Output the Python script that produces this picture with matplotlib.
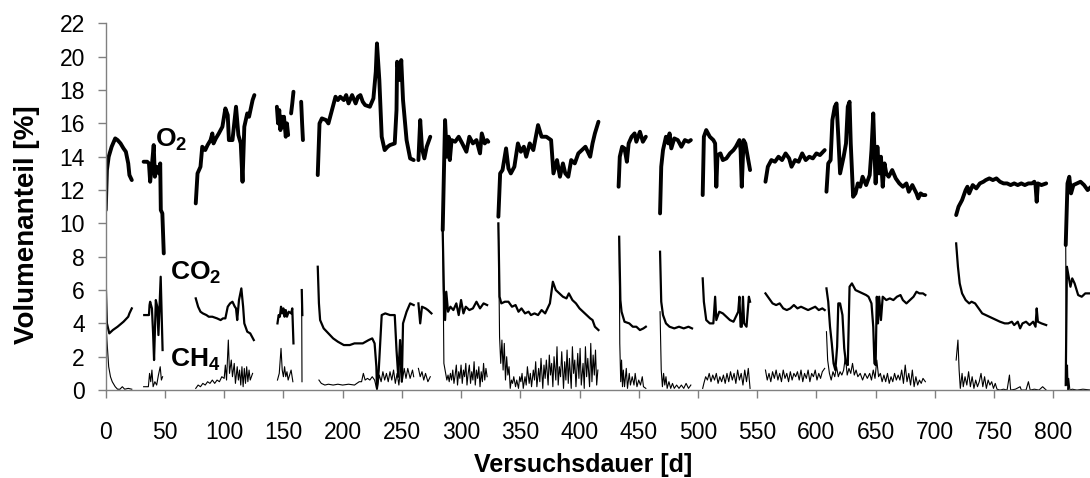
import matplotlib
matplotlib.use("Agg")
import matplotlib.pyplot as plt

plt.rcParams["font.family"] = ["Liberation Sans", "DejaVu Sans"]
plt.rcParams["mathtext.fontset"] = "custom"
plt.rcParams["mathtext.rm"] = "Liberation Sans"
plt.rcParams["mathtext.bf"] = "Liberation Sans:bold"

o2_segments = [
    [(0, 10.8), (1, 13.2), (2.5, 14.0), (5, 14.6), (8, 15.1), (10, 15.0), (12.5, 14.8), (15, 14.5),
     (17, 14.3), (19, 13.6), (20, 12.9), (22, 12.6)],
    [(32, 13.7), (35, 13.7), (36.5, 13.6), (37.5, 12.5), (39, 13.5), (40.5, 14.7), (41.5, 12.8),
     (43, 13.4), (45, 13.0), (46, 13.6), (46.5, 10.8), (47.8, 10.6), (49, 8.2)],
    [(76, 11.2), (77.5, 13.0), (80, 13.4), (81.5, 14.6), (84, 14.4), (86, 14.7), (88.5, 15.0),
     (90, 15.4), (91, 14.8), (93, 15.1), (95.5, 15.4), (98.5, 15.8), (101, 16.9), (103, 16.5),
     (104, 15.0), (107, 15.0), (110, 17.0), (112, 15.3), (114, 14.8), (115.5, 12.5), (117, 15.8),
     (119.5, 16.6), (121, 16.4), (124, 17.4), (125.5, 17.7)],
    [(144.5, 17.0), (145.5, 16.0), (146.5, 16.8), (147.5, 15.6), (148.5, 16.4), (149.5, 15.8),
     (150.5, 16.4), (152, 15.2), (153, 16.0), (154, 15.3)],
    [(156.5, 16.6), (157.5, 17.2), (158.5, 17.9)],
    [(165, 17.3), (165.8, 16.0), (166.5, 15.0)],
    [(179, 12.9), (180.5, 16.0), (182.5, 16.3), (186, 16.2), (188, 16.0), (191, 16.8), (194, 17.6),
     (196, 17.4), (198, 17.6), (201, 17.4), (203, 17.7), (205, 17.2), (208, 17.7), (211, 17.2),
     (213, 17.6), (215, 17.7), (217, 17.3), (219, 17.1), (223, 17.0), (226, 17.5), (228, 19.1),
     (229, 20.8), (231, 18.6), (233, 15.2), (235.5, 14.4), (238, 14.6), (240, 14.7), (244, 14.8),
     (245.5, 16.8), (246, 19.7), (248.5, 18.6), (249.5, 19.8), (251, 17.4), (253, 15.8), (254, 15.0),
     (257, 13.9), (260, 13.8)],
    [(264, 13.8), (265.5, 16.2), (267, 14.5), (269, 13.9), (271, 14.6), (274, 15.2)],
    [(284.5, 9.6), (285.5, 13.0), (286.5, 16.2), (288, 14.0), (289.5, 15.2), (290.5, 13.8),
     (292, 15.0), (295, 14.9), (298, 15.2), (301, 14.8), (304.5, 14.3), (307, 15.2), (310, 14.8),
     (313, 15.0), (316, 14.2), (317.5, 15.4), (320, 14.8), (322, 15.0), (323, 14.9)],
    [(331.5, 10.4), (333, 13.0), (335, 13.2), (338, 14.5), (340, 13.3), (342, 13.0), (345, 13.4),
     (348, 14.8), (350.5, 14.3), (353, 14.6), (355, 14.0), (358, 14.8), (361, 14.4), (365, 15.9),
     (368, 15.2), (372, 15.2), (376, 15.0), (377, 14.0), (378, 13.0), (381, 13.8), (383.5, 12.8),
     (386, 13.6), (388, 13.0), (390.5, 12.8), (393, 13.8), (396, 13.6), (399, 14.2), (402, 14.4),
     (405, 14.6), (409, 14.0), (411, 14.8), (413, 15.4), (416, 16.1)],
    [(433, 12.2), (434, 14.0), (436, 14.6), (438, 14.5), (440, 13.7), (441.5, 14.8), (444, 15.2),
     (446.5, 15.4), (448, 14.9), (451, 15.5), (453.5, 14.9), (456, 15.2)],
    [(468, 10.6), (469, 13.4), (470.5, 14.4), (473, 15.2), (475, 14.8), (476, 15.4), (477.5, 14.5),
     (480, 15.1), (483, 15.0), (486, 14.6), (489, 15.0), (492, 14.9), (494, 15.0)],
    [(504, 11.7), (505, 15.2), (507, 15.6), (510, 15.2), (513, 15.0), (514.5, 14.8), (515.5, 12.2),
     (516.5, 14.1), (519, 14.2), (521, 13.8), (524, 13.9), (527, 14.2), (530, 14.4), (532, 14.6),
     (535, 15.0), (536, 14.4), (537, 12.2), (538.5, 15.0), (540, 14.8), (542, 14.0), (544, 13.2)],
    [(557, 12.5), (559, 13.4), (562, 13.8), (565, 13.7), (568, 14.0), (571, 13.8), (574, 14.2),
     (577, 13.9), (579, 13.4), (582, 13.8), (585, 13.7), (588, 14.2), (591, 13.8), (594, 14.0),
     (597, 13.9), (600, 14.2), (603, 14.1), (607, 14.4)],
    [(608.5, 11.9), (610, 13.6), (612, 13.8), (613.5, 16.2), (615.5, 17.0), (617, 17.2),
     (618.5, 15.2), (620, 13.0), (623, 14.0), (625, 14.8), (626.5, 17.0), (628, 17.3), (629, 14.8),
     (631, 11.6), (633, 11.8), (635, 12.4), (637, 12.2), (639, 12.8), (642, 12.3), (645, 12.9),
     (646.5, 14.4), (648, 16.6), (649, 14.4), (650, 12.4), (651.5, 14.6), (653, 13.0), (654.5, 14.0),
     (656, 12.2), (657.5, 13.6), (659, 13.0), (661, 12.8), (664, 13.2), (667, 12.7), (670, 12.4),
     (673, 12.2), (676, 12.4), (678, 11.9), (681, 12.3), (684.5, 11.8), (686, 11.5), (688, 11.8),
     (690, 11.7), (692, 11.7)],
    [(718, 10.5), (720, 11.0), (723, 11.4), (726, 12.0), (727.5, 12.2), (729, 11.8), (732, 12.3),
     (735, 12.1), (738, 12.4), (741, 12.5), (743, 12.6), (746, 12.7), (749, 12.6), (752, 12.7),
     (755, 12.5), (758, 12.4), (761, 12.4), (764, 12.3), (767, 12.4), (770, 12.3), (773, 12.4),
     (776, 12.3), (779, 12.4), (782, 12.4), (784, 12.5), (785, 12.3), (786, 11.3), (787, 12.4),
     (790, 12.3), (794, 12.4)],
    [(810.5, 8.7), (812, 12.4), (813.5, 12.8), (815, 11.8), (817, 12.3), (820, 12.4), (823, 12.5),
     (826, 12.3), (829, 12.0), (832, 12.2)],
]

co2_segments = [
    [(0, 6.4), (1, 4.0), (3, 3.4), (6, 3.6), (10, 3.8), (15, 4.1), (19, 4.4), (20, 4.6), (22, 4.9)],
    [(32.5, 4.5), (36.5, 4.5), (37, 5.1), (37.5, 5.3), (39, 4.9), (40, 3.4), (40.8, 1.8),
     (42.3, 5.4), (43.5, 5.0), (44.5, 3.3), (46.4, 6.8), (48, 2.4)],
    [(76, 5.5), (78, 5.0), (80, 4.7), (82, 4.6), (85, 4.5), (87, 4.4), (90, 4.4), (94, 4.3),
     (97, 4.2), (99, 4.3), (101, 4.3), (103, 5.0), (105, 5.2), (107, 5.3), (109, 5.0), (110, 4.9),
     (111, 4.2), (112.5, 5.4), (114.5, 6.1), (116, 5.0), (117, 4.0), (119.5, 3.5), (122, 3.4),
     (125, 3.0)],
    [(145, 4.0), (146, 4.5), (147, 4.4), (148, 5.0), (149, 4.6), (150, 4.9), (151, 4.4), (152, 4.8),
     (153, 4.4), (154.5, 4.7), (156.5, 4.6), (157.5, 4.9), (158.5, 2.8)],
    [(165.5, 6.0), (166, 4.5)],
    [(179, 7.4), (180, 5.2), (181, 4.2), (184, 3.7), (188, 3.4), (192, 3.1), (196, 2.9), (201, 2.7),
     (206, 2.7), (210, 2.8), (213, 2.8), (217, 2.8), (222, 3.0), (225, 3.1), (227, 2.8),
     (228.5, 1.4), (229, 0.1), (230.5, 1.2), (233, 4.5), (236, 4.6), (240, 4.5), (244, 4.5),
     (245.5, 2.4), (247, 0.8), (248.5, 3.0), (250, 0.5), (251, 4.0), (254, 4.7), (257, 5.2),
     (260, 5.1)],
    [(264, 5.2), (265.5, 4.0), (267, 5.0), (270, 4.9), (272, 4.8), (275, 4.6)],
    [(284.5, 9.5), (285.5, 6.0), (286.5, 4.2), (287.5, 5.9), (289, 4.7), (291, 5.0), (293.5, 4.8),
     (296, 5.2), (298, 4.5), (300, 5.4), (302, 4.6), (304, 5.0), (307, 4.8), (310, 4.9), (313, 5.3),
     (316, 4.9), (319, 5.2), (322, 5.1)],
    [(331.5, 10.0), (332.5, 5.6), (334, 5.2), (337, 5.3), (340, 5.3), (343, 5.0), (346, 5.1),
     (348.5, 4.7), (351, 4.9), (354, 4.6), (357, 4.7), (359, 4.5), (362, 4.6), (365, 4.5),
     (368, 4.8), (371, 4.6), (375, 5.2), (377.5, 6.5), (380, 6.0), (383, 5.8), (386, 5.6),
     (389, 5.5), (391, 5.8), (394, 5.4), (397, 5.2), (400, 4.9), (403, 4.7), (406, 4.5), (409, 4.3),
     (411, 4.2), (413, 3.8), (416, 3.6)],
    [(433.5, 9.2), (434.5, 5.4), (435.5, 4.7), (438, 4.1), (442, 4.0), (445, 3.8), (448, 3.8),
     (451, 3.6), (454, 3.7), (456, 3.8)],
    [(468, 8.3), (469, 5.3), (470.5, 4.5), (473, 4.0), (476, 3.8), (480, 3.7), (484, 3.8),
     (488, 3.7), (492, 3.8), (495, 3.7)],
    [(504, 6.7), (505, 5.3), (507, 4.2), (510, 4.0), (513, 4.0), (514.5, 5.6), (515.5, 4.2),
     (518, 4.7), (521, 4.6), (524, 4.4), (527, 4.2), (530, 4.1), (532, 4.4), (534, 4.7), (535, 5.6),
     (536, 3.8), (537, 3.8), (538, 5.6), (539, 4.0), (541, 3.8), (543, 5.6), (544, 5.3)],
    [(557, 5.8), (560, 5.5), (563, 5.2), (566, 5.1), (569, 5.2), (572, 4.9), (575, 4.8), (578, 4.9),
     (581, 5.1), (584, 4.9), (587, 5.0), (590, 4.9), (593, 4.8), (596, 4.9), (599, 5.0), (602, 4.8),
     (605, 4.9), (607, 4.8)],
    [(608.5, 6.1), (610, 5.3), (611.5, 3.8), (613, 2.8), (614.5, 1.6), (616, 1.2), (617.5, 2.6),
     (618.5, 5.2), (620, 5.2), (622, 4.5), (623.5, 2.5), (625, 1.6), (626.5, 1.5), (628, 6.2),
     (630, 6.4), (633, 6.0), (636, 5.9), (639, 5.8), (642, 5.7), (644, 5.6), (646.5, 5.2),
     (648, 3.8), (649, 1.6), (650, 1.5), (651, 5.6), (652, 4.0), (653, 5.6), (654.5, 4.2),
     (656, 5.6), (659, 5.4), (662, 5.5), (665, 5.4), (668, 5.6), (671, 5.7), (673, 5.4), (676, 5.2),
     (679, 5.4), (682, 5.6), (684.5, 5.9), (687, 5.8), (690, 5.8), (692, 5.7)],
    [(718, 8.8), (719.5, 7.4), (721, 6.4), (723, 5.8), (726, 5.4), (729, 5.2), (731, 5.3),
     (734, 5.2), (737, 4.9), (740, 4.6), (743, 4.5), (746, 4.4), (749, 4.3), (752, 4.2), (755, 4.1),
     (759, 4.0), (762, 4.0), (765, 4.1), (767, 3.9), (770, 4.1), (772, 3.7), (774, 4.0), (777, 4.1),
     (780, 3.9), (783, 4.1), (785, 3.8), (786, 4.9), (787, 4.1), (790, 4.0), (794, 3.9)],
    [(810.5, 0.3), (811.5, 7.4), (813, 6.8), (814.5, 6.2), (816, 6.7), (818, 6.4), (821, 5.7),
     (824, 5.6), (827, 5.8), (832, 5.8)],
]

ch4_segments = [
    [(0, 4.2), (1, 3.0), (2.5, 1.4), (4, 0.8), (5.5, 0.5), (8, 0.2), (10, 0.05), (12, 0.05),
     (14, 0.2), (16, 0.05), (19, 0.1), (22, 0.05)],
    [(32, 0.2), (36, 0.2), (37, 1.0), (38, 0.5), (39, 1.2), (40, 0.2), (41.5, 0.5), (43, 0.3),
     (44.5, 0.9), (46, 1.4), (47, 0.6), (48, 0.8)],
    [(76, 0.1), (78, 0.3), (80, 0.2), (82, 0.4), (84, 0.3), (86, 0.5), (88, 0.4), (90, 0.6),
     (92, 0.4), (94, 0.6), (96, 0.5), (98, 0.8), (100, 0.7), (101, 1.5), (102, 0.6), (103.5, 3.0),
     (104.5, 1.0), (106, 1.8), (107, 0.8), (108.5, 1.6), (109.5, 0.4), (111, 1.4), (112, 0.6),
     (113, 1.2), (114, 0.3), (115, 1.4), (116, 0.2), (117, 1.3), (118, 0.4), (119, 1.4), (120, 0.5),
     (121, 1.2), (122, 0.6), (124, 1.0)],
    [(145, 0.6), (146.5, 1.0), (148, 2.5), (149, 1.2), (150, 0.8), (151, 1.4), (152, 0.8),
     (153, 1.1), (154, 0.6), (156.5, 1.2), (158, 0.5)],
    [(165.4, 6.0), (165.7, 0.5)],
    [(180, 0.6), (182, 0.4), (185, 0.3), (188, 0.35), (192, 0.3), (196, 0.35), (200, 0.3),
     (205, 0.35), (210, 0.3), (214, 0.5), (216, 0.5), (217.5, 1.0), (219, 0.6), (221, 0.7),
     (223, 0.6), (225, 0.8), (227, 0.6), (229, 0.0), (231, 0.9), (232.5, 0.5), (234, 1.1),
     (235.5, 0.6), (237, 1.0), (238.5, 0.5), (240, 1.1), (241.5, 0.6), (243, 1.2), (244.5, 0.4),
     (246, 1.0), (247.5, 0.3), (249, 1.4), (250.5, 0.6), (252, 1.3), (253.5, 0.7), (255, 1.3),
     (257, 0.7), (259, 1.2), (260, 0.8)],
    [(264, 1.3), (265.5, 0.8), (267, 1.1), (268.5, 0.6), (270, 1.0), (272, 0.5), (274, 0.8)],
    [(284.5, 9.5), (285.5, 1.6), (287, 1.0), (288, 0.6), (289, 0.9), (290, 0.5), (291, 1.0),
     (292, 0.6), (293, 1.2), (294, 0.4), (295, 0.9), (296, 1.5), (297, 0.3), (298, 1.1), (299, 0.7),
     (300, 1.5), (301, 0.4), (302, 1.2), (303, 0.8), (304, 1.6), (305, 0.3), (306, 1.0), (307, 1.5),
     (308, 0.4), (309, 1.1), (310, 0.6), (311, 1.7), (312, 0.3), (313, 1.2), (314, 0.7), (315, 1.4),
     (316, 0.2), (317, 1.1), (318, 0.5), (319, 1.6), (320, 0.6), (321, 1.3), (322, 0.8)],
    [(331.5, 10.0), (332.5, 3.2), (333.5, 1.6), (334.5, 3.0), (335.5, 1.2), (336.5, 2.8),
     (337.5, 0.6), (338.5, 2.0), (339.5, 0.9), (340.5, 1.4), (341.5, 0.1), (342.5, 0.6),
     (343.5, 0.4), (344.5, 0.8), (346, 0.2), (347, 0.6), (348.5, 0.1), (349.5, 0.8),
     (350.5, 0.5), (351.5, 1.0), (352.5, 0.1), (354, 0.8), (355, 0.3), (356, 1.4),
     (357.5, 0.4), (358.5, 1.0), (359.5, 0.2), (361, 1.2), (362, 0.6), (363, 1.7),
     (364, 0.2), (365.5, 1.3), (366.5, 0.5), (367.5, 1.9), (369, 0.1), (370, 1.5),
     (371, 0.7), (372, 1.8), (373.5, 0.3), (374.5, 2.1), (375.5, 0.9), (376.5, 1.6),
     (377.5, 0.2), (378.5, 2.0), (380, 0.6), (381, 2.6), (382, 0.3), (383, 1.4),
     (384, 0.8), (385, 2.3), (386.5, 0.1), (387.5, 1.7), (388.5, 0.6), (389.5, 2.4),
     (390.5, 0.4), (391.5, 1.9), (393, 0.1), (394, 2.6), (395, 1.0), (396, 1.8),
     (397, 0.2), (398.5, 2.2), (399.5, 0.7), (400.5, 2.5), (401.5, 0.3), (403, 1.6),
     (404, 0.1), (405, 2.6), (406, 0.8), (407, 1.9), (408.5, 0.2), (409.5, 2.8),
     (410.5, 0.5), (411.5, 2.1), (412.5, 0.9), (413.5, 2.4), (414.5, 0.3), (415.5, 1.2)],
    [(433.5, 9.2), (434, 2.8), (434.8, 0.5), (435.5, 1.8), (436.3, 0.2), (437, 1.2), (438, 0.2),
     (439.5, 1.3), (440.5, 0.1), (442, 1.0), (443, 0.3), (444.5, 0.8), (446, 0.3), (447, 1.0),
     (448.5, 0.2), (450, 0.6), (451.5, 0.3), (453, 0.8), (454, 0.2), (456, 0.1)],
    [(468, 4.7), (469, 1.2), (470, 0.2), (471, 1.0), (472, 0.3), (473, 0.8), (474, 0.1),
     (475.5, 0.5), (477, 0.1), (478.5, 0.4), (480, 0.1), (482, 0.3), (484, 0.1), (486, 0.3),
     (488, 0.1), (490, 0.4), (492, 0.1), (494, 0.3)],
    [(504, 0.1), (505, 0.4), (506.5, 0.8), (508, 0.6), (509.5, 1.0), (511, 0.5), (512.5, 0.9),
     (514, 0.6), (515.5, 1.0), (517, 0.4), (518.5, 0.8), (520, 0.5), (521.5, 0.9), (523, 0.4),
     (524.5, 1.0), (526, 0.5), (527.5, 1.1), (529, 0.6), (530.5, 1.0), (532, 0.4), (533.5, 1.2),
     (535, 0.6), (536.5, 1.0), (538, 0.3), (539.5, 1.2), (541, 0.5), (542.5, 1.3), (544, 0.1)],
    [(557, 1.2), (558.5, 0.6), (560, 1.0), (561.5, 0.5), (563, 1.1), (564.5, 0.7), (566, 1.2),
     (567.5, 0.6), (569, 1.0), (570.5, 0.5), (572, 1.2), (573.5, 0.7), (575, 1.0), (576.5, 0.5),
     (578, 1.1), (579.5, 0.6), (581, 1.0), (582.5, 0.8), (584, 1.1), (585.5, 0.6), (587, 1.2),
     (588.5, 0.5), (590, 1.0), (591.5, 0.7), (593, 1.2), (594.5, 0.5), (596, 1.0), (597.5, 0.8),
     (599, 1.2), (600.5, 0.6), (602, 1.0), (603.5, 0.7), (605, 1.1), (607, 1.3)],
    [(608.5, 3.5), (609.5, 1.8), (611, 1.0), (612.5, 0.6), (614, 1.1), (615.5, 0.8), (617, 1.4),
     (618.5, 0.8), (620, 1.1), (621.5, 0.9), (623, 1.2), (624.5, 2.0), (626, 0.9), (627.5, 1.3),
     (629, 1.0), (630.5, 1.6), (632, 0.9), (633.5, 1.2), (635, 0.8), (637, 1.0), (639, 0.6),
     (641, 1.0), (643, 0.7), (645, 1.0), (646.5, 0.6), (648, 1.2), (649.5, 0.7), (651, 1.8),
     (652.5, 0.8), (654, 1.0), (655.5, 0.5), (657, 0.9), (658.5, 0.5), (660, 1.0), (661.5, 0.4),
     (663, 0.8), (664.5, 0.5), (666, 1.0), (667.5, 0.6), (669, 0.9), (670.5, 0.6), (672, 1.2),
     (673.5, 0.4), (675, 1.5), (676.5, 0.5), (678, 1.0), (679.5, 0.3), (681, 1.2), (682.5, 0.2),
     (684, 0.8), (685.5, 0.3), (687, 0.6), (688.5, 0.4), (690, 0.7), (692, 0.5)],
    [(718, 1.8), (719.5, 3.0), (720.5, 1.2), (721.5, 0.1), (723, 1.0), (724, 0.2), (725.5, 0.8),
     (727, 0.3), (728.5, 1.1), (730, 0.2), (731.5, 0.8), (733, 0.1), (734.5, 0.6), (736, 0.2),
     (737.5, 0.5), (739, 1.0), (740.5, 0.2), (742, 0.8), (743.5, 0.1), (745, 0.6), (746.5, 0.3),
     (748, 0.5), (749.5, 0.1), (751, 0.4), (752.5, 0.05), (755, 0.0), (758, 0.05), (761, 0.0),
     (763, 0.9), (764, 0.0), (768, 0.05), (772, 0.2), (773, 0.0), (777, 0.0), (779, 0.5),
     (780.5, 0.0), (784, 0.05), (788, 0.0), (791, 0.2), (794, 0.0)],
    [(810.5, 8.7), (811, 1.9), (811.5, 0.3), (812, 1.5), (812.5, 0.0), (813, 0.7), (814, 0.0),
     (816, 0.05), (820, 0.0), (825, 0.05), (832, 0.0)],
]

y_ticks = list(range(0, 23, 2))
x_ticks = list(range(0, 801, 50))

fig = plt.figure(figsize=(10.9, 4.78), dpi=100)
ax = fig.add_axes([0.097, 0.184, 0.903, 0.767])

for seg in ch4_segments:
    d, v = zip(*seg)
    ax.plot(d, v, color="black", lw=0.8, solid_joinstyle="round")
for seg in co2_segments:
    d, v = zip(*seg)
    ax.plot(d, v, color="black", lw=1.6, solid_joinstyle="round")
for seg in o2_segments:
    d, v = zip(*seg)
    ax.plot(d, v, color="black", lw=2.8, solid_joinstyle="round", solid_capstyle="round")

ax.set_xlim(0, 831)
ax.set_ylim(0, 22)
ax.set_xticks(x_ticks)
ax.set_yticks(y_ticks)

for side in ("top", "right"):
    ax.spines[side].set_visible(False)
for side in ("left", "bottom"):
    ax.spines[side].set_color("#808080")
    ax.spines[side].set_linewidth(1.0)

ax.tick_params(axis="both", direction="out", length=6, width=1.0, color="#808080", labelsize=16.5)
ax.tick_params(axis="x", pad=16)
ax.tick_params(axis="y", pad=9)

# gas labels next to the curves
ax.text(41.5, 15.0, r"$\mathbf{O_2}$", fontsize=19, va="center", ha="left")
ax.text(54.5, 7.0, r"$\mathbf{CO_2}$", fontsize=19, va="center", ha="left")
ax.text(54.5, 1.8, r"$\mathbf{CH_4}$", fontsize=19, va="center", ha="left")

fig.text(0.535, 0.028, "Versuchsdauer [d]", fontsize=18, fontweight="bold", ha="center", va="center")
fig.text(0.025, 0.53, "Volumenanteil [%]", fontsize=20, fontweight="bold", ha="center",
         va="center", rotation=90)

fig.savefig("out.png", dpi=100)
